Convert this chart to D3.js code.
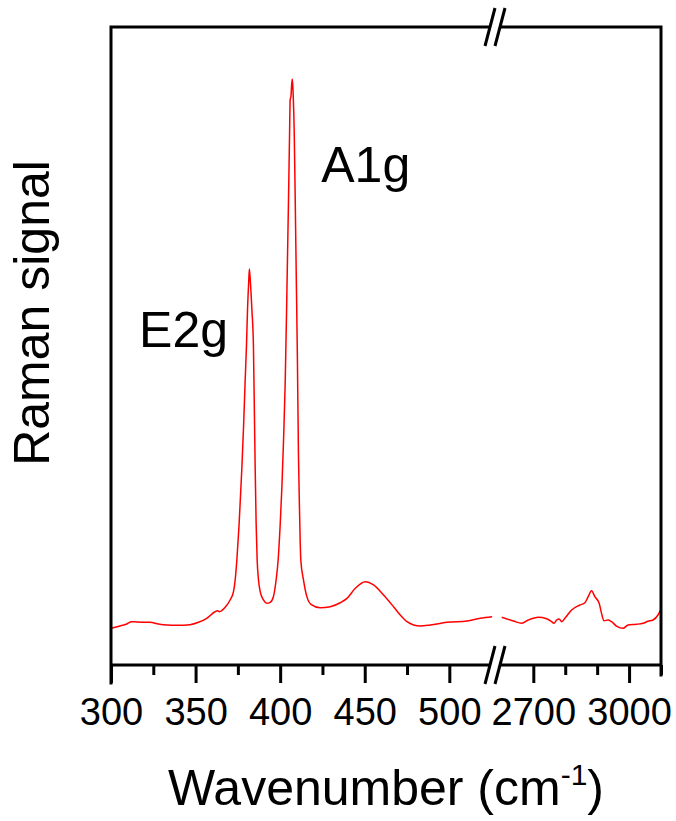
<!DOCTYPE html>
<html>
<head>
<meta charset="utf-8">
<script src="https://cdn.jsdelivr.net/npm/d3@7"></script>
<style>
  html, body { margin: 0; padding: 0; background: #fff; }
  svg { display: block; font-family: "Liberation Sans", Arial, sans-serif; }
</style>
</head>
<body>
<svg id="chart" width="676" height="821"></svg>
<script>
// Raman spectrum, low-wavenumber window (cm^-1) and intensity (a.u.)
const lowWavenumber = [300, 305.3, 309.3, 312.2, 315.2, 323.1, 328, 333, 338.9, 346.7, 351.7, 356.6,
  361.5, 362.9, 364.1, 367.5, 370.4, 372.4, 373.4, 374.4, 375.7, 377.3, 378.4, 379.3, 380.1, 380.7,
  381.4, 381.8, 382.4, 383.3, 384.2, 384.8, 385.2, 385.8, 386.4, 387.2, 388.2, 390.1, 392.1, 394.1,
  396, 397.6, 398.8, 400, 401, 402, 403, 404, 404.9, 405.6, 405.9, 406.4, 406.8, 407.2, 407.7, 408.3,
  408.9, 409.5, 410.2, 410.8, 411.5, 412.2, 413.8, 415.8, 418.2, 423.7, 429.6, 435.5, 439.5, 444.4,
  450.3, 455.2, 461.1, 467, 471, 475, 478.9, 482.8, 488.8, 498.6, 510.5, 518.3, 525.3];
const lowIntensity = [57.5, 61.1, 64.3, 67.9, 67.4, 66.9, 64.3, 62.7, 62.2, 63.2, 66.9, 73.2,
  83.5, 85.1, 83.5, 90.4, 101.9, 114.9, 133.2, 164.6, 219.4, 305.6, 376.2, 445.1, 501.6, 556.4,
  600.3, 620.7, 600.3, 556.4, 500, 388.7, 313.5, 221, 164.6, 133.2, 114.9, 101.9, 96.7, 98.3,
  107.1, 133.2, 164.6, 219.4, 277.4, 352.7, 445.1, 587.8, 724.1, 838.6, 885.6, 891.8, 909.1, 918.5, 893.4, 837,
  728.8, 612.9, 478.1, 332.3, 235.1, 164.6, 133.2, 107.1, 95.1, 89.8, 91.4, 97.6, 104.5, 120.2,
  130.6, 125.4, 109.7, 91.4, 78.4, 67.9, 62.7, 61.1, 62.7, 66.9, 69, 73.2, 75.7];

// High-wavenumber window
const highWavenumber = [2601, 2637.5, 2663.8, 2684.4, 2715.6, 2741.9, 2757.5, 2764.7, 2773.1, 2781.3,
  2788.8, 2799, 2820, 2846, 2861.6, 2871.9, 2882.5, 2892.8, 2906.3, 2913.8, 2921, 2934.4, 2945,
  2960.6, 2981.3, 2996.9, 3023, 3043.8, 3059.4, 3075, 3090.6, 3100];
const highIntensity = [74.8, 69, 65.4, 70.5, 74.8, 72.6, 67.9, 65.4, 70.5, 72.1,
  67.9, 73.2, 86.2, 94, 97.6, 107.1, 116.5, 107.1, 96.7, 81, 69.4, 70.5, 67.9,
  61.1, 57.5, 62.7, 63.8, 65.4, 68.5, 70.5, 78.4, 87.3];

// Axis tick values for both windows
const lowMajorTicks = [300, 350, 400, 450, 500];
const lowMinorTicks = [325, 375, 425, 475];
const highMajorTicks = [2700, 3000];
const highMinorTicks = [2800, 2900, 3100];

// Peak labels: [text, wavenumber at label start, intensity at label baseline]
const peakLabels = [["E2g", 316.6, 498], ["A1g", 424.3, 757]];

const svg = d3.select("#chart");
const plotLeft = 111, plotRight = 661, plotTop = 27, plotBottom = 665;
const breakX = 495;

const xLow = d3.scaleLinear().domain([300, 527]).range([plotLeft, breakX]);
const xHigh = d3.scaleLinear().domain([2580, 3100]).range([breakX, plotRight]);
const y = d3.scaleLinear().domain([0, 1000]).range([plotBottom, plotTop]);

// Spectrum traces
const line = (xs) => d3.line().x(d => xs(d[0])).y(d => y(d[1])).curve(d3.curveMonotoneX);
svg.append("path")
  .datum(d3.zip(lowWavenumber, lowIntensity))
  .attr("d", line(xLow))
  .attr("fill", "none").attr("stroke", "#ff0000").attr("stroke-width", 1.5);
svg.append("path")
  .datum(d3.zip(highWavenumber, highIntensity))
  .attr("d", line(xHigh))
  .attr("fill", "none").attr("stroke", "#ff0000").attr("stroke-width", 1.5);

// Bottom axes (major with labels, minor without)
function drawAxis(scale, values, size, labels) {
  const ax = d3.axisBottom(scale).tickValues(values).tickSize(size).tickPadding(15)
    .tickFormat(labels ? d3.format("d") : "");
  const g = svg.append("g").attr("transform", `translate(0,${plotBottom})`).call(ax);
  g.select(".domain").remove();
  g.selectAll(".tick line").attr("stroke", "#000").attr("stroke-width", 3);
  g.selectAll(".tick text").attr("fill", "#000").attr("font-size", 38)
    .attr("font-family", "Liberation Sans, Arial, sans-serif");
  return g;
}
drawAxis(xLow, lowMajorTicks, 18, true);
drawAxis(xLow, lowMinorTicks, 10, false);
drawAxis(xHigh, highMajorTicks, 18, true);
drawAxis(xHigh, highMinorTicks, 10, false);

// Frame
const frame = svg.append("g").attr("stroke", "#000").attr("stroke-width", 3).attr("fill", "none");
frame.append("path").attr("d", `M${plotLeft},${plotBottom + 18}V${plotTop}H${plotRight}V${plotBottom + 10}`)
  .attr("stroke-linecap", "square");
frame.append("line").attr("x1", plotLeft).attr("x2", plotRight).attr("y1", plotBottom).attr("y2", plotBottom);

// Axis break marks on top and bottom edges
[plotTop, plotBottom].forEach(yy => {
  const gap = 10, half = 19, lean = 5;
  svg.append("polygon")
    .attr("points", [
      [breakX - gap / 2 - lean, yy + half], [breakX - gap / 2 + lean, yy - half],
      [breakX + gap / 2 + lean, yy - half], [breakX + gap / 2 - lean, yy + half]
    ].map(p => p.join(",")).join(" "))
    .attr("fill", "#fff");
  [-gap / 2, gap / 2].forEach(off => {
    svg.append("line")
      .attr("x1", breakX + off - lean).attr("y1", yy + half)
      .attr("x2", breakX + off + lean).attr("y2", yy - half)
      .attr("stroke", "#000").attr("stroke-width", 3);
  });
});

// Peak labels
svg.selectAll("text.peak").data(peakLabels).enter().append("text")
  .attr("class", "peak")
  .attr("x", d => xLow(d[1]))
  .attr("y", d => y(d[2]))
  .attr("font-size", 50).attr("fill", "#000")
  .text(d => d[0]);

// Axis titles
svg.append("text")
  .attr("transform", `translate(49,${313}) rotate(-90)`)
  .attr("text-anchor", "middle").attr("font-size", 50).attr("fill", "#000")
  .text("Raman signal");

const xt = svg.append("text")
  .attr("x", (plotLeft + plotRight) / 2).attr("y", 805)
  .attr("text-anchor", "middle").attr("font-size", 50).attr("fill", "#000");
xt.append("tspan").text("Wavenumber (cm");
xt.append("tspan").attr("font-size", 30).attr("dy", -20).text("-1");
xt.append("tspan").attr("dy", 20).text(")");
</script>
</body>
</html>
